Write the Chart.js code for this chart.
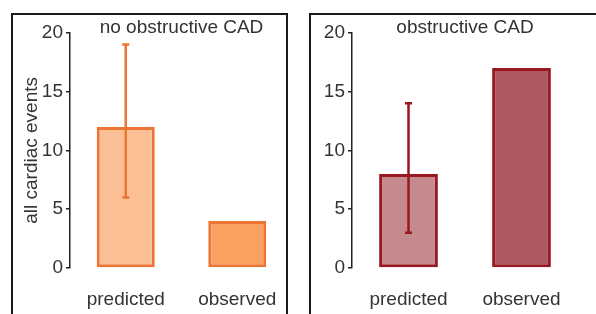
<!DOCTYPE html>
<html>
<head>
<meta charset="utf-8">
<script src="https://cdn.jsdelivr.net/npm/chart.js@4.4.1/dist/chart.umd.min.js"></script>
<style>
  body { margin: 0; width: 596px; height: 314px; background: #fff; overflow: hidden; position: relative; }
  .panel { position: absolute; border: 2px solid #1a1a1a; box-sizing: border-box; }
  canvas { position: absolute; top: 0; }
</style>
</head>
<body>
<div class="panel" style="left:11px; top:13px; width:277px; height:320px;"></div>
<div class="panel" style="left:309px; top:13px; width:300px; height:320px;"></div>
<canvas id="c1" style="left:0; width:300px; height:314px;"></canvas>
<canvas id="c2" style="left:300px; width:296px; height:314px;"></canvas>
<script>
// datos
const categorias = ['predicted', 'observed'];
const ticksY = [0, 5, 10, 15, 20];

const noObsValores = [12, 4];
const noObsErrBajo = [6, null];
const noObsErrAlto = [19, null];

const obsValores = [8, 17];
const obsErrBajo = [3, null];
const obsErrAlto = [14, null];

Chart.defaults.font.family = '"Liberation Sans", Arial, sans-serif';
Chart.defaults.color = '#333';

// barras de error dibujadas con las escalas del propio chart
const barrasError = {
    id: 'barrasError',
    afterDatasetsDraw(chart, args, opts) {
        const { ctx, scales: { x, y } } = chart;
        ctx.save();
        ctx.strokeStyle = opts.color;
        ctx.lineWidth = 2.5;
        opts.bajo.forEach((lo, i) => {
            if (lo == null) return;
            const cx = x.getPixelForValue(i);
            const y1 = y.getPixelForValue(lo), y2 = y.getPixelForValue(opts.alto[i]);
            ctx.beginPath();
            ctx.moveTo(cx, y1); ctx.lineTo(cx, y2);
            ctx.moveTo(cx - 3.5, y1); ctx.lineTo(cx + 3.5, y1);
            ctx.moveTo(cx - 3.5, y2); ctx.lineTo(cx + 3.5, y2);
            ctx.stroke();
        });
        ctx.restore();
    }
};

function crearPanel(id, titulo, valores, bajo, alto, rellenos, borde, anchoEje, padIzq, padDer, tituloY) {
    return new Chart(document.getElementById(id), {
        type: 'bar',
        data: {
            labels: categorias,
            datasets: [{ data: valores, backgroundColor: rellenos, borderColor: borde, borderWidth: 3,
                borderSkipped: false, barPercentage: 0.52, categoryPercentage: 1 }]
        },
        options: {
            responsive: false, animation: false,
            layout: { padding: { left: padIzq, right: padDer, top: 0, bottom: 0 } },
            plugins: {
                legend: { display: false }, tooltip: { enabled: false },
                title: { display: true, text: titulo, fullSize: false, font: { size: 19, weight: 'normal' }, color: '#333',
                    padding: { top: 16, bottom: -6 } },
                barrasError: { bajo, alto, color: borde }
            },
            scales: {
                x: {
                    grid: { display: false }, border: { display: false },
                    ticks: { font: { size: 19 }, color: '#333', padding: 12 },
                    afterFit(s) { s.height = 46; }
                },
                y: {
                    min: 0, max: 20,
                    afterBuildTicks(s) { s.ticks = ticksY.map(v => ({ value: v })); },
                    grid: { drawOnChartArea: false, drawTicks: true, tickLength: 4, color: '#222', lineWidth: 1.5 },
                    border: { display: true, color: '#222', width: 1.5 },
                    ticks: { font: { size: 19 }, color: '#333', padding: 3 },
                    title: { display: !!tituloY, text: tituloY, font: { size: 19 }, color: '#333', padding: 0 },
                    afterFit(s) { s.width = anchoEje; }
                }
            }
        },
        plugins: [barrasError]
    });
}

const c1 = document.getElementById('c1'); c1.width = 300; c1.height = 314;
const c2 = document.getElementById('c2'); c2.width = 296; c2.height = 314;

crearPanel('c1', 'no obstructive CAD', noObsValores, noObsErrBajo, noObsErrAlto,
    ['#fbbf95', '#f9a160'], '#ec7534', 50, 20, 7, 'all cardiac events');
crearPanel('c2', 'obstructive CAD', obsValores, obsErrBajo, obsErrAlto,
    ['#c48a8e', '#ab5860'], '#99171f', 52, 0, 18, '');
</script>
</body>
</html>
